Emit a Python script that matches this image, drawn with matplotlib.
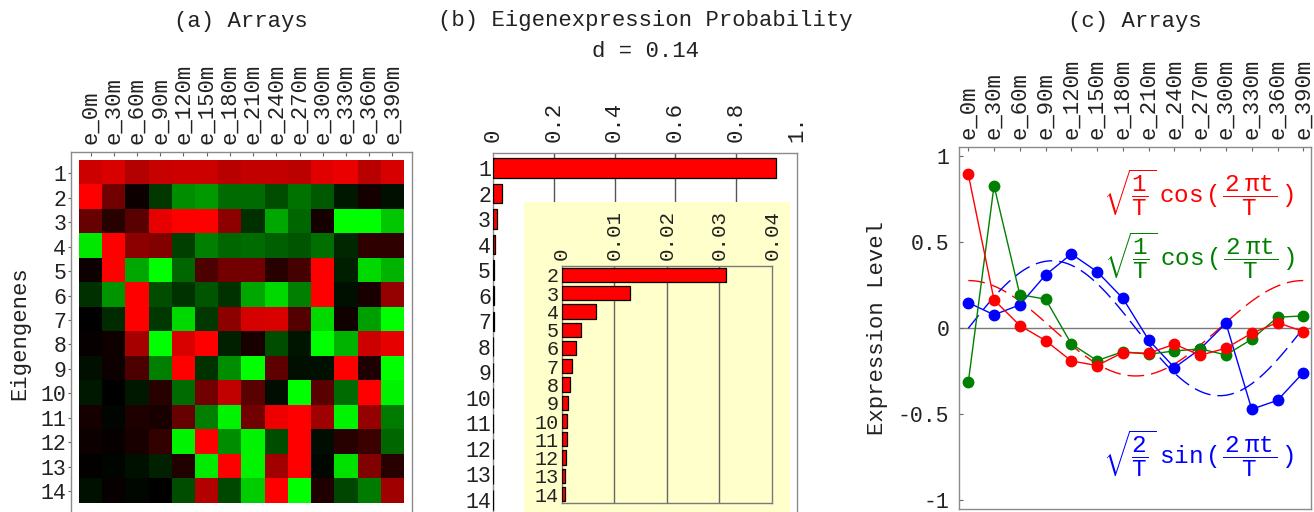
import numpy as np
import matplotlib
matplotlib.use("Agg")
import matplotlib.pyplot as plt
from matplotlib.colors import LinearSegmentedColormap

# ---------------- data ----------------
arrays = ["e_0m", "e_30m", "e_60m", "e_90m", "e_120m", "e_150m", "e_180m",
          "e_210m", "e_240m", "e_270m", "e_300m", "e_330m", "e_360m", "e_390m"]
eigengenes = [str(i) for i in range(1, 15)]

# heatmap values: +1 = red, -1 = green, 0 = black
heat = np.array([
    [0.80, 0.85, 0.70, 0.78, 0.80, 0.80, 0.72, 0.76, 0.76, 0.73, 0.88, 0.92, 0.72, 0.84],
    [1.00, 0.45, 0.05, -0.22, -0.55, -0.60, -0.42, -0.42, -0.30, -0.45, -0.35, -0.10, 0.08, -0.06],
    [0.40, 0.15, 0.35, 0.90, 1.00, 1.00, 0.55, -0.18, -0.65, -0.40, 0.08, -1.00, -1.00, -0.78],
    [-0.90, 1.00, 0.55, 0.50, -0.25, -0.50, -0.40, -0.42, -0.37, -0.33, -0.43, -0.15, 0.18, 0.18],
    [0.05, 1.00, -0.65, -1.00, -0.40, 0.30, 0.45, 0.45, 0.15, 0.27, 1.00, -0.12, -0.85, -0.70],
    [-0.18, -0.58, 1.00, -0.30, -0.20, -0.33, -0.20, -0.65, -0.85, -0.50, 1.00, -0.07, 0.10, 0.58],
    [0.00, -0.17, 1.00, -0.22, -0.85, -0.22, 0.55, 0.83, 0.85, 0.33, -0.85, 0.07, -0.62, -1.00],
    [0.03, 0.06, 0.65, -1.00, 0.85, 1.00, -0.13, 0.10, -0.30, -0.08, -1.00, -0.70, 0.80, 0.90],
    [-0.06, 0.05, 0.30, -0.50, 1.00, -0.20, -0.55, -1.00, 0.37, -0.06, -0.07, 1.00, 0.12, -1.00],
    [-0.10, 0.00, -0.10, 0.15, -0.42, 0.45, 0.75, 0.35, -0.05, -1.00, 0.35, -0.42, 1.00, -0.95],
    [0.08, -0.02, 0.12, 0.10, 0.40, -0.50, -0.95, 0.45, 0.93, 1.00, 0.62, -0.95, 0.58, -0.48],
    [0.05, 0.03, 0.10, 0.20, -0.95, 1.00, -0.55, -0.95, -0.30, 1.00, -0.05, 0.15, 0.23, -0.40],
    [0.01, -0.02, -0.07, -0.13, 0.13, -0.92, 1.00, -0.95, 0.63, 1.00, -0.03, -0.88, 0.50, 0.15],
    [-0.07, 0.03, -0.03, 0.00, -0.30, 0.70, -0.28, -0.80, 1.00, -1.00, 0.12, -0.27, -0.48, 0.63],
])

prob_rows = list(range(1, 15))
prob_vals = [0.930, 0.0312, 0.0130, 0.0065, 0.0036, 0.0027, 0.0019,
             0.0015, 0.0012, 0.0011, 0.0010, 0.0008, 0.0007, 0.0006]
main_xticks = [0, 0.2, 0.4, 0.6, 0.8, 1.0]
main_xticklabels = ["0", "0.2", "0.4", "0.6", "0.8", "1."]
inset_xticks = [0, 0.01, 0.02, 0.03, 0.04]
inset_xticklabels = ["0", "0.01", "0.02", "0.03", "0.04"]

expr_red = [0.895, 0.165, 0.016, -0.072, -0.190, -0.217, -0.141,
            -0.145, -0.093, -0.157, -0.116, -0.029, 0.033, -0.019]
expr_green = [-0.314, 0.829, 0.196, 0.169, -0.091, -0.188, -0.136,
              -0.151, -0.132, -0.120, -0.155, -0.064, 0.064, 0.072]
expr_blue = [0.149, 0.078, 0.136, 0.310, 0.432, 0.329, 0.174,
             -0.068, -0.229, -0.120, 0.029, -0.471, -0.419, -0.258]
c_yticks = [-1, -0.5, 0, 0.5, 1]
c_yticklabels = ["-1", "-0.5", "0", "0.5", "1"]
T = 13  # period of the model curves (number of array intervals)

# ---------------- style ----------------
plt.rcParams["font.family"] = ["Liberation Mono", "DejaVu Sans Mono"]
plt.rcParams["mathtext.fontset"] = "custom"
plt.rcParams["mathtext.rm"] = "Liberation Mono"
plt.rcParams["mathtext.it"] = "Liberation Mono"
plt.rcParams["mathtext.default"] = "rm"
FS = 16          # titles, axis labels, rotated tick labels
FS_ROW = 15.5    # row tick labels
FS_IN = 14.5     # inset row labels
TXT = "#222222"
SP = "#8a8a8a"

W, H = 1314, 512
fig = plt.figure(figsize=(W / 100, H / 100), dpi=100)


def px_axes(l, t, r, b, **kw):
    return fig.add_axes([l / W, 1 - b / H, (r - l) / W, (b - t) / H], **kw)


def style_spines(ax, color=SP, lw=1.0):
    for s in ax.spines.values():
        s.set_color(color)
        s.set_linewidth(lw)


# ---------------- (a) heatmap ----------------
cmap = LinearSegmentedColormap.from_list("gkr", [(0, 1, 0), (0, 0, 0), (1, 0, 0)])
ax_a = px_axes(71, 152, 412, 514)
ax_a.imshow(heat, cmap=cmap, vmin=-1, vmax=1, aspect="auto", interpolation="nearest")
ax_a.set_xlim(-0.845, 13.845)
ax_a.set_ylim(13.93, -0.87)
ax_a.set_xticks(range(len(arrays)))
ax_a.set_xticklabels(arrays, rotation=90, fontsize=FS, color=TXT)
ax_a.xaxis.tick_top()
ax_a.tick_params(axis="x", direction="in", length=3, pad=5.5, color="#666")
ax_a.set_yticks(range(len(eigengenes)))
ax_a.set_yticklabels(eigengenes, fontsize=FS_ROW, color=TXT)
ax_a.tick_params(axis="y", direction="out", length=2, pad=1.5, color="#666")
style_spines(ax_a)
fig.text(241 / W, 1 - 27 / H, "(a) Arrays", ha="center", va="baseline", fontsize=FS, color=TXT)
fig.text(20 / W, 1 - 333 / H, "Eigengenes", rotation=90, ha="center", va="center",
         fontsize=FS, color=TXT)

# ---------------- (b) bar chart ----------------
ax_b = px_axes(493, 153, 797, 515)
ax_b.barh(prob_rows, prob_vals, height=0.76, color="#ff0000", edgecolor="black",
          linewidth=0.9, zorder=3)
ax_b.set_xlim(0, 1.0)
ax_b.set_ylim(14.59, 0.41)
for g in main_xticks[1:-1]:
    ax_b.axvline(g, color="#555555", lw=1, zorder=1)
ax_b.set_xticks(main_xticks)
ax_b.set_xticklabels(main_xticklabels, rotation=90, fontsize=FS, color=TXT)
ax_b.xaxis.tick_top()
ax_b.tick_params(axis="x", length=0, pad=8)
ax_b.set_yticks(prob_rows)
ax_b.set_yticklabels([str(r) for r in prob_rows], fontsize=FS_ROW, color=TXT)
ax_b.tick_params(axis="y", length=0, pad=1.5)
style_spines(ax_b)
fig.text(645 / W, 1 - 26 / H, "(b) Eigenexpression Probability", ha="center",
         va="baseline", fontsize=FS, color=TXT)
fig.text(645 / W, 1 - 57 / H, "d = 0.14", ha="center", va="baseline", fontsize=FS, color=TXT)

# yellow inset background
ax_bg = px_axes(524, 202, 790, 520)
ax_bg.set_facecolor("#ffffcc")
ax_bg.set_xticks([])
ax_bg.set_yticks([])
for s in ax_bg.spines.values():
    s.set_visible(False)

ax_in = px_axes(561.7, 266, 772, 503)
ax_in.patch.set_alpha(0)
ax_in.barh(prob_rows[1:], prob_vals[1:], height=0.79, color="#ff0000", edgecolor="black",
           linewidth=0.9, zorder=3)
ax_in.set_xlim(0, 0.04)
ax_in.set_ylim(14.49, 1.51)
for g in inset_xticks[1:-1]:
    ax_in.axvline(g, color="#666666", lw=1, zorder=1)
ax_in.set_xticks(inset_xticks)
ax_in.set_xticklabels(inset_xticklabels, rotation=90, fontsize=15, color=TXT)
ax_in.xaxis.tick_top()
ax_in.tick_params(axis="x", length=0, pad=4.5)
ax_in.set_yticks(prob_rows[1:])
ax_in.set_yticklabels([str(r) for r in prob_rows[1:]], fontsize=FS_IN, color=TXT)
ax_in.tick_params(axis="y", length=0, pad=2)
style_spines(ax_in, color="#7a7a7a")

# ---------------- (c) expression lines ----------------
ax_c = px_axes(959, 147, 1311, 509)
x = np.arange(len(arrays))
t = np.linspace(0, T, 300)
ax_c.axhline(0, color="#7a7a7a", lw=1, zorder=1)
ax_c.plot(t, np.sqrt(1 / T) * np.cos(2 * np.pi * t / T), color="#ff0000", lw=1,
          dashes=(12, 5), zorder=2)
ax_c.plot(t, np.sqrt(2 / T) * np.sin(2 * np.pi * t / T), color="#0000ff", lw=1,
          dashes=(12, 5), zorder=2)
ax_c.plot(x, expr_blue, color="#0000ff", lw=1, marker="o", ms=7.5, zorder=3)
ax_c.plot(x, expr_green, color="#008000", lw=1, marker="o", ms=7.5, zorder=4)
ax_c.plot(x, expr_red, color="#ff0000", lw=1, marker="o", ms=7.5, zorder=5)
ax_c.set_xlim(-0.36, 13.30)
ax_c.set_ylim(-1.051, 1.054)
ax_c.set_xticks(x)
ax_c.set_xticklabels(arrays, rotation=90, fontsize=FS, color=TXT)
ax_c.xaxis.tick_top()
ax_c.tick_params(axis="x", direction="in", length=3, pad=6, color="#666")
ax_c.set_yticks(c_yticks)
ax_c.set_yticklabels(c_yticklabels, fontsize=FS_ROW, color=TXT)
ax_c.tick_params(axis="y", direction="in", length=3, pad=7, color="#666")
style_spines(ax_c)
fig.text(1135 / W, 1 - 27 / H, "(c) Arrays", ha="center", va="baseline", fontsize=FS, color=TXT)
fig.text(877 / W, 1 - 328 / H, "Expression Level", rotation=90, ha="center", va="center",
         fontsize=FS, color=TXT)

FFS = 17.5
form_cos = r"$\sqrt{\dfrac{1}{T}\,}\ \mathrm{cos}\,(\,\dfrac{\,2\ \pi t\,}{T}\,)$"
form_sin = r"$\sqrt{\dfrac{2}{T}\,}\ \mathrm{sin}\,(\,\dfrac{\,2\ \pi t\,}{T}\,)$"
ax_c.text(5.23, 0.785, form_cos, color="#ff0000", fontsize=FFS, ha="left", va="center", zorder=6)
ax_c.text(5.27, 0.424, form_cos, color="#008000", fontsize=FFS, ha="left", va="center", zorder=6)
ax_c.text(5.23, -0.727, form_sin, color="#0000ff", fontsize=FFS, ha="left", va="center", zorder=6)

fig.savefig("out.png", dpi=100)
